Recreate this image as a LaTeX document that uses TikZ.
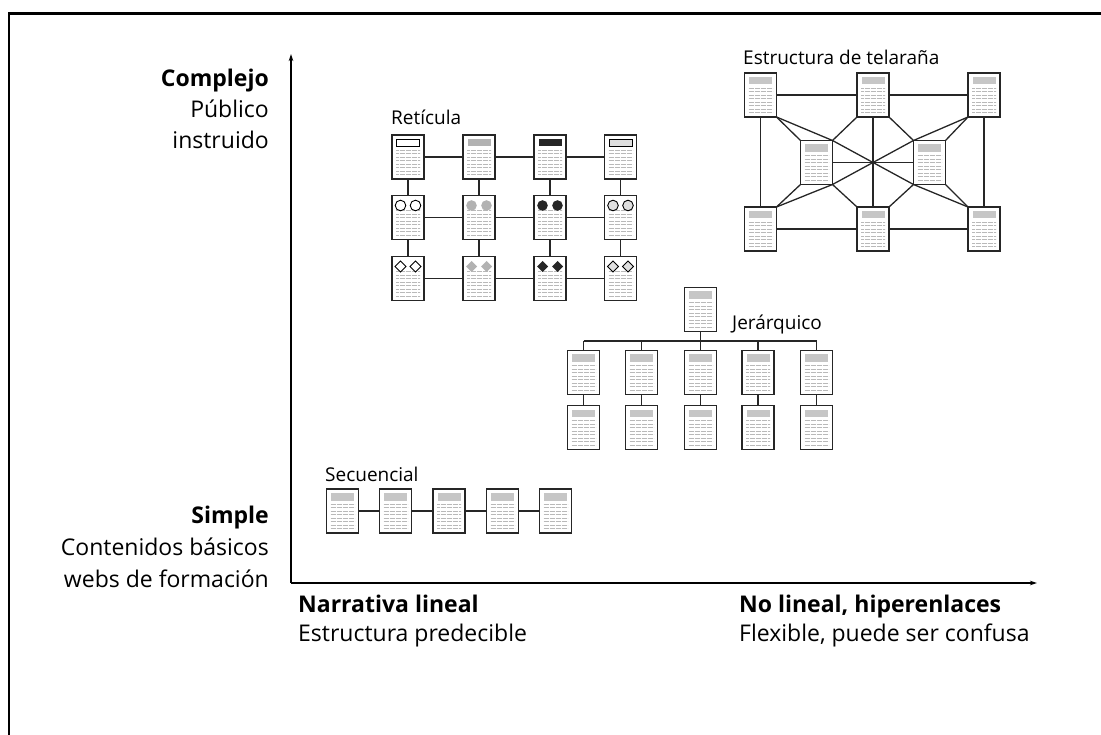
\documentclass[tikz,border=0pt]{standalone}
\usepackage{fontspec}
\setmainfont{Open Sans}
\usetikzlibrary{arrows.meta}
\pgfdeclarelayer{bg}
\pgfsetlayers{bg,main}
\tikzset{
  pagebox/.style={draw=black!85, line width=1.4pt, fill=white, minimum width=32pt, minimum height=44pt,
    inner sep=0pt, outer sep=0pt,
    path picture={
      \foreach \k in {0,...,7}
        \draw[gray!55, line width=0.8pt, dash pattern=on 0.6pt off 0.6pt]
          ([xshift=4pt,yshift=-15pt-\k*3.5pt]path picture bounding box.north west) --
          ([xshift=-4pt,yshift=-15pt-\k*3.5pt]path picture bounding box.north east);
    }},
  link/.style={draw=black!85, line width=1.3pt},
  axis/.style={draw=black, line width=1.2pt, -{Stealth[length=7pt,width=4.5pt]}},
  big/.style={font=\fontsize{23}{27}\selectfont, inner sep=0pt},
  small/.style={font=\fontsize{19}{23}\selectfont, inner sep=0pt},
  hwhite/.style={fill=white, draw=black, line width=0.9pt},
  hgray/.style={fill=gray!60},
  hdark/.style={fill=black!85},
  hlight/.style={fill=gray!25, draw=black, line width=0.9pt},
  hplain/.style={fill=gray!45},
}
\newcommand\pgnode[3]{\node[pagebox] (#1) at (#2,#3) {};}
\newcommand\pghead[2]{\path[#2] ([xshift=4.5pt,yshift=-4pt]#1.north west) rectangle ([xshift=-4.5pt,yshift=-11.5pt]#1.north east);}
\newcommand\pgcirc[2]{\path[#2] ([xshift=-7.5pt,yshift=-10pt]#1.north) circle (5.3pt) ([xshift=7.5pt,yshift=-10pt]#1.north) circle (5.3pt);}
\newcommand\pgdiam[2]{\path[#2] ([xshift=-7.5pt,yshift=-4.5pt]#1.north) -- ++(5.5pt,-5.5pt) -- ++(-5.5pt,-5.5pt) -- ++(-5.5pt,5.5pt) -- cycle
  ([xshift=7.5pt,yshift=-4.5pt]#1.north) -- ++(5.5pt,-5.5pt) -- ++(-5.5pt,-5.5pt) -- ++(-5.5pt,5.5pt) -- cycle;}
\begin{document}
\begin{tikzpicture}[x=1pt,y=-1pt]
\useasboundingbox (0,0) rectangle (1101,735);
% frame
\draw[line width=2.8pt] (9,735) -- (9,13.5) -- (1101,13.5);

% axes
\coordinate (O) at (291,583);
\coordinate (Ytop) at (291,54);
\coordinate (Xend) at (1037,583);
\draw[axis] (O) -- (Ytop);
\draw[axis] (O) -- (Xend);

% axis labels
\node[big, anchor=base east] (cA) at (269,87) {\textbf{Complejo}};
\node[big, anchor=base east] (cB) at (269,118) {Público};
\node[big, anchor=base east] (cC) at (269,149) {instruido};
\node[big, anchor=base east] (sA) at (269,523) {\textbf{Simple}};
\node[big, anchor=base east] (sB) at (269,555) {Contenidos básicos};
\node[big, anchor=base east] (sC) at (269,587) {webs de formación};
\node[big, anchor=base west] (nA) at (298,612) {\textbf{Narrativa lineal}};
\node[big, anchor=base west] (nB) at (298,641) {Estructura predecible};
\node[big, anchor=base west] (hA) at (739,612) {\textbf{No lineal, hiperenlaces}};
\node[big, anchor=base west] (hB) at (739,641) {Flexible, puede ser confusa};

% ---------- Reticula ----------
\node[small, anchor=base west] (lR) at (391,125) {Retícula};
\foreach \c/\x in {1/408,2/479,3/550,4/620.5}
  \foreach \r/\y in {1/157,2/217.5,3/278.5}
    {\pgnode{g\r\c}{\x}{\y}}
\pghead{g11}{hwhite}\pghead{g12}{hgray}\pghead{g13}{hdark}\pghead{g14}{hlight}
\pgcirc{g21}{hwhite}\pgcirc{g22}{hgray}\pgcirc{g23}{hdark}\pgcirc{g24}{hlight}
\pgdiam{g31}{hwhite}\pgdiam{g32}{hgray}\pgdiam{g33}{hdark}\pgdiam{g34}{hlight}
\begin{pgfonlayer}{bg}
\foreach \r in {1,2,3}{
  \draw[link] (g\r1) -- (g\r2) -- (g\r3) -- (g\r4);}
\foreach \c in {1,2,3,4}{
  \draw[link] (g1\c) -- (g2\c) -- (g3\c);}
\end{pgfonlayer}

% ---------- Telarana ----------
\node[small, anchor=base west] (lW) at (743,65) {Estructura de telaraña};
\pgnode{TL}{760.5}{95}\pgnode{TM}{873}{95}\pgnode{TR}{984}{95}
\pgnode{ML}{816.5}{162.5}\pgnode{MR}{929.5}{162.5}
\pgnode{BL}{760.5}{229}\pgnode{BM}{873}{229}\pgnode{BR}{984}{229}
\foreach \n in {TL,TM,TR,ML,MR,BL,BM,BR}{\pghead{\n}{hplain}}
\begin{pgfonlayer}{bg}
\draw[link] (TL) -- (TM) -- (TR);
\draw[link] (BL) -- (BM) -- (BR);
\draw[link] (TL) -- (BL);
\draw[link] (TR) -- (BR);
\draw[link] (TM) -- (BM);
\draw[link] (ML) -- (MR);
\draw[link] (ML.north east) -- (MR.south west);
\draw[link] (ML.south east) -- (MR.north west);
\draw[link] (TL.south east) -- (ML.north west);
\draw[link] (TL.south east) -- (ML.north east);
\draw[link] (TM.south west) -- (ML.north east);
\draw[link] (TM.south east) -- (MR.north west);
\draw[link] (TR.south west) -- (MR.north west);
\draw[link] (TR.south west) -- (MR.north east);
\draw[link] (BL.north east) -- (ML.south west);
\draw[link] (BL.north east) -- (ML.south east);
\draw[link] (BM.north west) -- (ML.south east);
\draw[link] (BM.north east) -- (MR.south west);
\draw[link] (BR.north west) -- (MR.south west);
\draw[link] (BR.north west) -- (MR.south east);
\end{pgfonlayer}

% ---------- Jerarquico ----------
\pgnode{root}{700.5}{309.5}
\pghead{root}{hplain}
\node[small, anchor=base west] (lJ) at (732,330) {Jerárquico};
\coordinate (busL) at (583.5,341);
\coordinate (busR) at (816.5,341);
\foreach \i/\x in {1/583.5,2/641.5,3/700.5,4/758,5/816.5}{
  \pgnode{ha\i}{\x}{372.5}\pgnode{hb\i}{\x}{427.5}
  \pghead{ha\i}{hplain}\pghead{hb\i}{hplain}}
\begin{pgfonlayer}{bg}
\draw[link] (busL) -- (busR);
\draw[link] (root) -- (root |- busL);
\foreach \i in {1,...,5}{
  \draw[link] (ha\i) -- (ha\i |- busL);
  \draw[link] (ha\i) -- (hb\i);}
\end{pgfonlayer}

% ---------- Secuencial ----------
\node[small, anchor=base west] (lS) at (325,481) {Secuencial};
\foreach \i/\x in {1/342.5,2/395.5,3/449,4/502.5,5/555.5}{
  \pgnode{s\i}{\x}{511}\pghead{s\i}{hplain}}
\begin{pgfonlayer}{bg}
\draw[link] (s1) -- (s2) -- (s3) -- (s4) -- (s5);
\end{pgfonlayer}
\end{tikzpicture}
\end{document}
